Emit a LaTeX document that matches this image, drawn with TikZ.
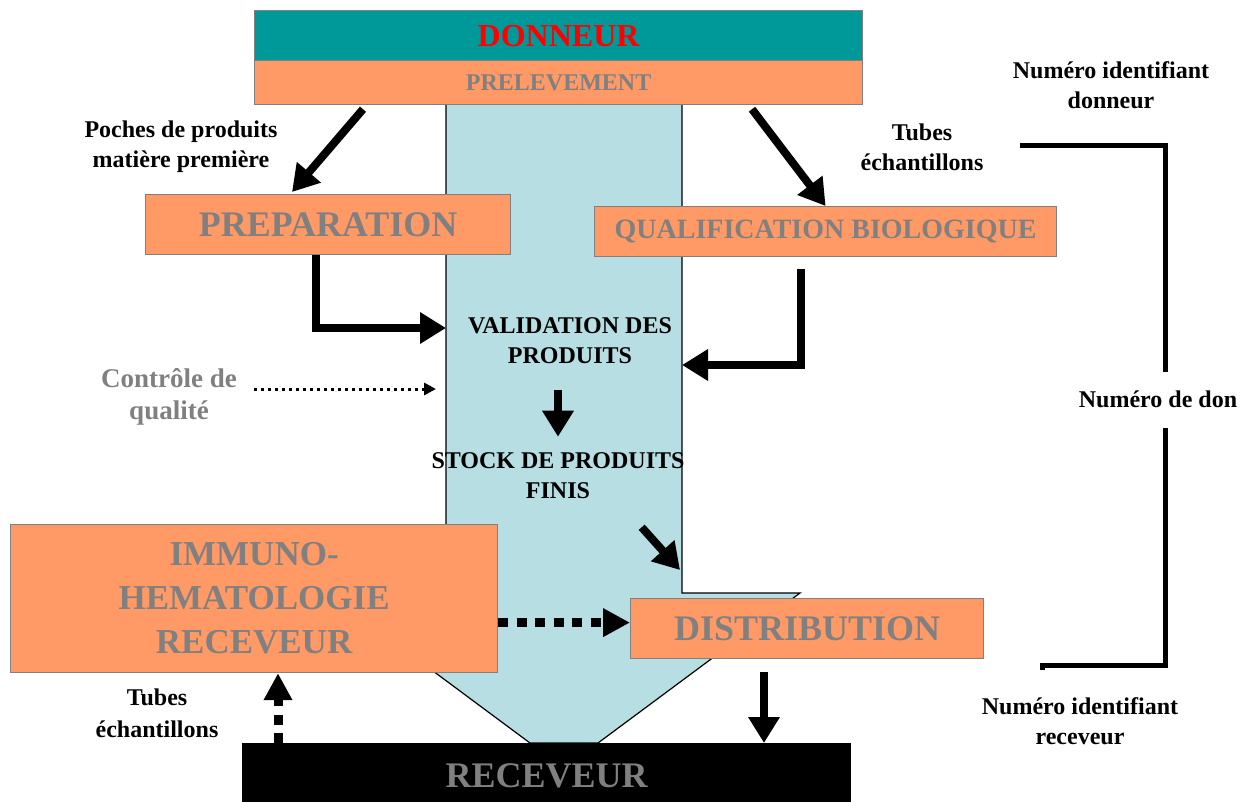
\documentclass[tikz,border=0pt]{standalone}
\usepackage{fontspec}
\setmainfont{Liberation Serif}
\usetikzlibrary{arrows.meta,calc}
\definecolor{donteal}{RGB}{0,153,153}
\definecolor{saumon}{RGB}{255,153,102}
\definecolor{flux}{RGB}{183,222,227}
\definecolor{gristxt}{RGB}{128,128,128}
\newcommand{\tailleb}[2]{\fontsize{#1}{#2}\selectfont\bfseries}

\begin{document}
\begin{tikzpicture}[x=1pt,y=-1pt,
  etape/.style={draw=gristxt,line width=1.2pt,fill=saumon,text=gristxt,inner sep=0pt,anchor=north west,align=center},
  note/.style={inner sep=0pt,align=center,font=\tailleb{24}{30}},
  fleche/.style={line width=8pt,-{Triangle[length=26pt,width=30pt]}},
  pointille/.style={line width=9pt,dash pattern=on 10pt off 8.5pt,-{Triangle[length=27pt,width=27pt]}},
  accolade/.style={line width=5pt}]

  \useasboundingbox (0,0) rectangle (1252,801);

  % flux central
  \draw[fill=flux,line width=1.2pt] (446,104) -- (682,104) -- (682,593) -- (800,593)
    -- (598,743) -- (530,743) -- (328,593) -- (446,593) -- cycle;
  \coordinate (colL) at (446,328);
  \coordinate (colR) at (682,365);
  \coordinate (colQ) at (436,389);
  \coordinate (colD) at (680,570);

  \node[etape,fill=donteal,minimum width=608pt,minimum height=50pt,text=red,font=\tailleb{32}{36}] (donneur) at (254,10) {DONNEUR};
  \node[etape,minimum width=608pt,minimum height=44pt,font=\tailleb{24}{28}] (prelev) at (254,60) {PRELEVEMENT};
  \node[etape,minimum width=365pt,minimum height=60pt,font=\tailleb{36}{40}] (prep) at (145,194) {PREPARATION};
  \node[etape,minimum width=462pt,minimum height=50pt,font=\tailleb{28}{32}] (qualif) at (594,206) {QUALIFICATION BIOLOGIQUE};
  \node[etape,minimum width=353pt,minimum height=60pt,font=\tailleb{36}{40}] (distrib) at (630,598) {DISTRIBUTION};
  \node[etape,minimum width=487pt,minimum height=148pt,font=\tailleb{35}{44}] (immuno) at (10,524) {IMMUNO-\\HEMATOLOGIE\\RECEVEUR};
  \node[etape,fill=black,draw=black,minimum width=608pt,minimum height=64pt,font=\tailleb{36}{40}] (recv) at (242,743) {RECEVEUR};

  \node[note] (poches) at (181,147) {Poches de produits\\matière première};
  \node[note] (tubesD) at (922,147) {Tubes\\échantillons};
  \node[note] (numD) at (1111,85) {Numéro identifiant\\donneur};
  \node[note] (don) at (1158,399) {Numéro de don};
  \node[note] (numR) at (1080,721) {Numéro identifiant\\receveur};
  \node[note,font=\tailleb{24}{32}] (tubesR) at (157,713) {Tubes\\échantillons};
  \node[note,text=gristxt,font=\tailleb{27}{32}] (ctrl) at (169,397) {Contrôle de\\qualité};
  \node[note] (valid) at (570,341) {VALIDATION DES\\PRODUITS};
  \node[note] (stock) at (558,476) {STOCK DE PRODUITS\\FINIS};

  \draw[fleche] ($(prelev.south west)+(109,4)$) -- ($(prep.north west)+(147,-2)$);
  \draw[fleche] ($(prelev.south west)+(498,4)$) -- (qualif.north);
  \draw[fleche] ($(prep.south)+(-12,0)$) |- (colL);
  \draw[fleche] ($(qualif.south)+(-25,12)$) |- (colR);
  \draw[fleche,shorten <=26pt,shorten >=16pt] (valid.south -| stock.north) -- (stock.north);
  \draw[fleche] ($(stock.south east)+(-43,28)$) -- (colD);
  \draw[fleche] ($(distrib.south west)+(134,13)$) -- ($(recv.north west)+(522,0)$);

  \draw[pointille] ([yshift=6pt]immuno.east |- distrib.west) -- ([yshift=6pt]distrib.west);
  \draw[pointille] ($(recv.north west)+(36,0)$) -- ($(immuno.south west)+(268,0)$);
  \draw[line width=3pt,dash pattern=on 3pt off 4pt,-{Triangle[length=12pt,width=12pt]}]
    ([xshift=17pt]ctrl.east |- colQ) -- (colQ);

  \coordinate (brD) at (1020,145);
  \coordinate (brR) at (1042,665);
  \draw[accolade,shorten >=18pt] (brD) -| ([xshift=7pt]don.north);
  \draw[accolade,shorten <=20pt] ([xshift=7pt]don.south) |- (brR) -- ++(0,5);
\end{tikzpicture}
\end{document}
